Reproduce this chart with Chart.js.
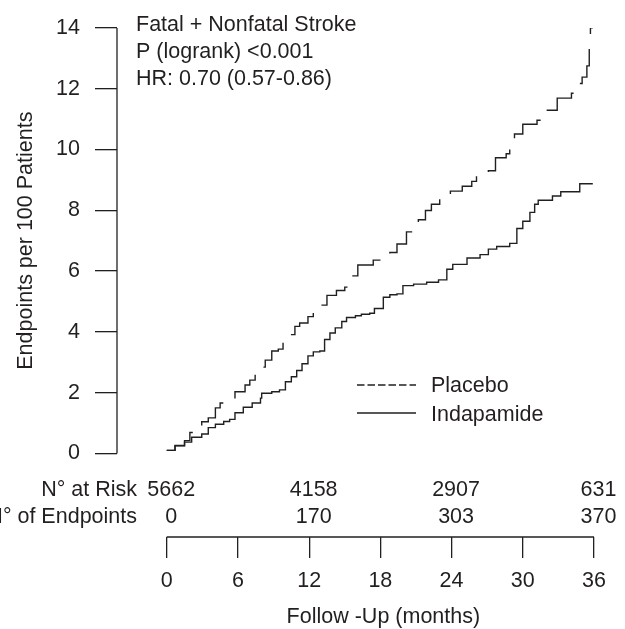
<!DOCTYPE html>
<html>
<head>
<meta charset="utf-8">
<script src="https://cdn.jsdelivr.net/npm/chart.js@4.4.1/dist/chart.umd.min.js"></script>
<style>
  html, body { margin: 0; padding: 0; background: #fff; }
  canvas { display: block; }
</style>
</head>
<body>
<canvas id="chart" width="625" height="629"></canvas>
<script>
// month of each step and the cumulative rate (per 100 patients) after it
const placeboMonths = [0, 0.7, 1.5, 1.95, 2.25, 2.95, 3.5, 4.1, 4.5, 5.05, 5.75, 6.6, 7.0, 7.45, 8.3, 8.85, 9.4, 9.8, 10.1, 10.8, 11.2, 11.9, 12.35, 12.8, 13.5, 14.3, 15.0, 15.3, 15.6, 16.1, 17.4, 18.1, 18.8, 19.4, 20.2, 21.2, 21.8, 22.3, 23.0, 23.9, 24.9, 25.7, 26.1, 27.1, 27.7, 28.6, 28.9, 29.3, 30.0, 31.2, 31.7, 32.9, 34.1, 34.4, 35.0, 35.4, 35.6, 35.7, 35.9];
const placeboRates = [0.1, 0.25, 0.42, 0.69, 0.82, 1.04, 1.17, 1.5, 1.66, 1.76, 2.03, 2.25, 2.41, 2.84, 3.07, 3.37, 3.43, 3.86, 3.91, 4.18, 4.29, 4.5, 4.72, 4.88, 5.2, 5.36, 5.47, 5.63, 5.84, 6.2, 6.36, 6.57, 6.61, 6.89, 7.29, 7.69, 7.99, 8.2, 8.39, 8.63, 8.79, 8.95, 9.19, 9.3, 9.73, 9.86, 10.29, 10.51, 10.83, 10.96, 11.29, 11.69, 11.85, 12.17, 12.38, 12.75, 13.5, 14.0, 14.0];

const indapamideMonths = [0, 0.7, 1.5, 2.1, 2.95, 3.5, 4.1, 4.8, 5.3, 5.75, 6.45, 7.2, 7.9, 8.0, 8.85, 9.5, 10.0, 10.5, 10.95, 11.4, 11.9, 12.35, 12.9, 13.3, 13.75, 14.2, 14.75, 15.15, 15.9, 16.4, 17.1, 17.5, 18.25, 18.8, 19.4, 19.9, 20.8, 21.9, 22.9, 23.6, 24.1, 25.3, 26.4, 27.1, 27.8, 28.9, 29.5, 30.0, 30.6, 31.0, 31.3, 32.5, 33.2, 34.8, 35.9];
const indapamideRates = [0.1, 0.26, 0.37, 0.53, 0.64, 0.85, 0.96, 1.05, 1.12, 1.34, 1.52, 1.66, 1.82, 1.98, 2.03, 2.09, 2.36, 2.52, 2.73, 2.95, 3.21, 3.34, 3.37, 3.75, 3.96, 4.13, 4.34, 4.47, 4.53, 4.58, 4.61, 4.77, 5.14, 5.22, 5.25, 5.52, 5.57, 5.63, 5.71, 6.06, 6.22, 6.43, 6.54, 6.72, 6.81, 6.91, 7.40, 7.64, 7.93, 8.2, 8.33, 8.47, 8.61, 8.87, 8.87];

const xTicks = [0, 6, 12, 18, 24, 30, 36];
const yTicks = [0, 2, 4, 6, 8, 10, 12, 14];

// risk table
const riskMonths = [0, 12, 24, 36];
const atRisk = [5662, 4158, 2907, 631];
const endpoints = [0, 170, 303, 370];

const notes = ['Fatal + Nonfatal Stroke', 'P (logrank) <0.001', 'HR: 0.70 (0.57-0.86)'];

const ink = '#231f20';
const fontFamily = '"Liberation Sans", Arial, Helvetica, sans-serif';
const fontSize = 21.5;
const font = fontSize + 'px ' + fontFamily;

const toPoints = (xs, ys) => xs.map((m, i) => ({ x: m, y: ys[i] }));

// axis lines, titles, notes, legend and the risk table
const extras = {
  id: 'extras',
  afterDraw(chart) {
    const { ctx, chartArea, scales: { x, y } } = chart;
    const x0 = x.getPixelForValue(0);
    const xEnd = x.getPixelForValue(36);
    const y0 = y.getPixelForValue(0);
    const yTop = y.getPixelForValue(14);

    ctx.save();
    ctx.strokeStyle = ink;
    ctx.fillStyle = ink;
    ctx.lineWidth = 1.3;

    ctx.beginPath();
    ctx.moveTo(chartArea.left, y0);
    ctx.lineTo(chartArea.left, yTop);
    ctx.moveTo(x0, chartArea.bottom);
    ctx.lineTo(xEnd, chartArea.bottom);
    ctx.stroke();

    ctx.font = font;
    ctx.textBaseline = 'alphabetic';

    // y title
    ctx.save();
    ctx.translate(32, (y0 + yTop) / 2);
    ctx.rotate(-Math.PI / 2);
    ctx.textAlign = 'center';
    ctx.fillText('Endpoints per 100 Patients', 0, 0);
    ctx.restore();

    // x title
    ctx.textAlign = 'center';
    ctx.fillText('Follow -Up (months)', (x0 + xEnd) / 2 + 3, 623);

    // notes
    ctx.textAlign = 'left';
    notes.forEach((t, i) => ctx.fillText(t, 136, 31 + i * 27));

    // legend
    ctx.setLineDash([7.5, 3]);
    ctx.beginPath();
    ctx.moveTo(357, 385);
    ctx.lineTo(416, 385);
    ctx.stroke();
    ctx.setLineDash([]);
    ctx.beginPath();
    ctx.moveTo(357, 413);
    ctx.lineTo(416, 413);
    ctx.stroke();
    ctx.fillText('Placebo', 431, 392);
    ctx.fillText('Indapamide', 431, 421);

    // risk table
    ctx.textAlign = 'right';
    ctx.fillText('N° at Risk', 137, 496);
    ctx.fillText('N° of Endpoints', 137, 523);
    ctx.textAlign = 'center';
    riskMonths.forEach((m, i) => {
      const px = x.getPixelForValue(m) + 4.5;
      ctx.fillText(String(atRisk[i]), px, 496);
      ctx.fillText(String(endpoints[i]), px, 523);
    });
    ctx.restore();
  }
};

new Chart(document.getElementById('chart'), {
  type: 'line',
  data: {
    datasets: [
      {
        label: 'Placebo',
        data: toPoints(placeboMonths, placeboRates),
        borderColor: ink,
        borderWidth: 1.4,
        borderDash: [44, 16],
        stepped: 'before',
        pointRadius: 0,
        fill: false
      },
      {
        label: 'Indapamide',
        data: toPoints(indapamideMonths, indapamideRates),
        borderColor: ink,
        borderWidth: 1.4,
        stepped: 'before',
        pointRadius: 0,
        fill: false
      }
    ]
  },
  options: {
    responsive: false,
    animation: false,
    layout: { padding: { top: 16.5, right: 31, bottom: 0, left: 0 } },
    plugins: {
      legend: { display: false },
      tooltip: { enabled: false }
    },
    scales: {
      x: {
        type: 'linear',
        min: -4.19,
        max: 36,
        afterBuildTicks: s => { s.ticks = xTicks.map(v => ({ value: v })); },
        afterFit: s => { s.height = 92; },
        ticks: {
          autoSkip: false,
          maxRotation: 0,
          padding: 10,
          color: ink,
          font: { family: fontFamily, size: fontSize }
        },
        grid: {
          drawOnChartArea: false,
          drawTicks: true,
          tickLength: 21,
          color: ink,
          lineWidth: 1.3
        },
        border: { display: false }
      },
      y: {
        min: -2.75,
        max: 14,
        afterBuildTicks: s => { s.ticks = yTicks.map(v => ({ value: v })); },
        afterFit: s => { s.width = 117; },
        ticks: {
          padding: 15,
          color: ink,
          font: { family: fontFamily, size: fontSize }
        },
        grid: {
          drawOnChartArea: false,
          drawTicks: true,
          tickLength: 22,
          color: ink,
          lineWidth: 1.3
        },
        border: { display: false }
      }
    }
  },
  plugins: [extras]
});
</script>
</body>
</html>
